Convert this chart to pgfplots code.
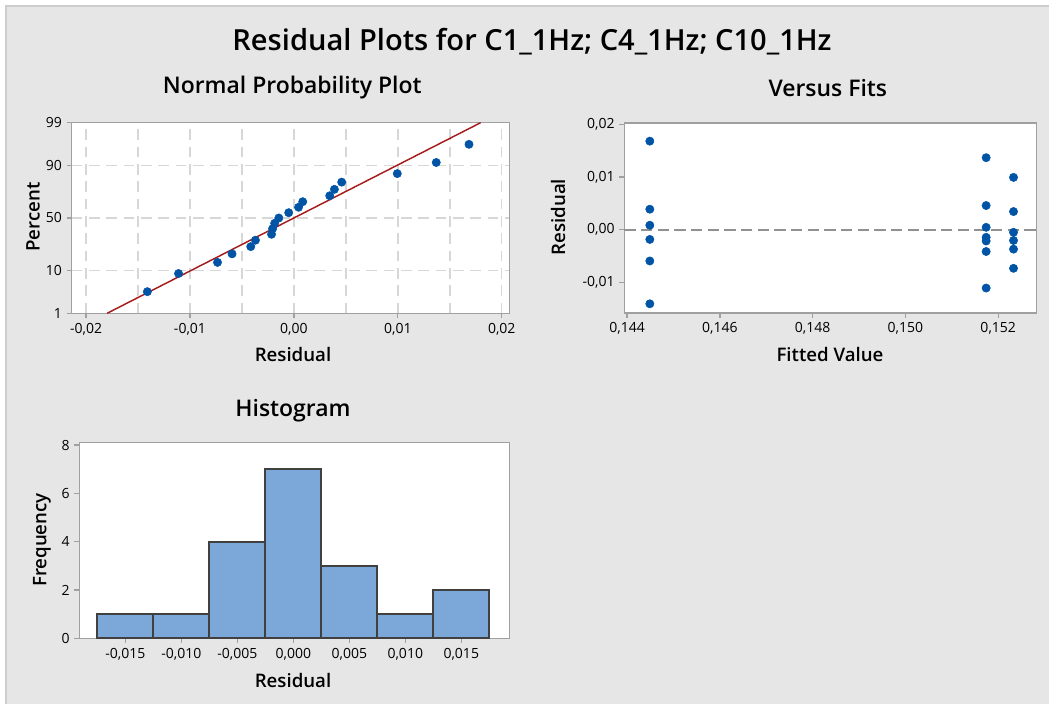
\documentclass[border=0pt]{standalone}
\usepackage{pgfplots}
\pgfplotsset{compat=1.18}
\usepackage{fontspec}
\IfFontExistsTF{Open Sans Semibold}{%
  \setmainfont{Open Sans}[BoldFont={Open Sans Semibold}]%
}{%
  \setmainfont{Open Sans}%
}
\definecolor{bgc}{RGB}{230,230,230}
\definecolor{edgec}{RGB}{205,205,205}
\definecolor{framec}{RGB}{160,160,160}
\definecolor{ptc}{RGB}{0,84,166}
\definecolor{fitc}{RGB}{165,28,28}
\definecolor{gridc}{RGB}{215,215,215}
\definecolor{zeroc}{RGB}{145,145,145}
\definecolor{barfill}{RGB}{123,167,217}
\definecolor{baredge}{RGB}{64,64,64}

\pgfplotsset{
  every axis title shift=0pt,
  myaxis/.style={
    scale only axis,
    anchor=south west,
    axis background/.style={fill=white},
    axis line style={draw=framec, line width=1.1pt},
    tick align=outside,
    tick pos=left,
    major tick length=3.75pt,
    major tick style={draw=framec, line width=1pt},
    /pgf/number format/assume math mode=true,
    tick label style={font=\fontsize{10.5}{12}\selectfont, text=black},
    label style={font=\bfseries\fontsize{14}{16}\selectfont},
    title style={font=\bfseries\fontsize{17.2}{20}\selectfont, anchor=center},
    scaled ticks=false,
    clip=true,
  }
}

\begin{document}
\begin{tikzpicture}
\path[use as bounding box, fill=white] (0,0) rectangle (786.75pt,528pt);
\fill[bgc] (4.5pt,0) rectangle (786.75pt,523.5pt);
\draw[edgec, line width=0.8pt] (4.5pt,0) -- (4.5pt,523.5pt) -- (786.75pt,523.5pt);

% ---------------- Normal probability plot ----------------
\begin{axis}[myaxis,
  at={(53.78pt,293.03pt)}, width=328.2pt, height=142.95pt,
  xmin=-0.02138, xmax=0.02073, ymin=-2.3263, ymax=2.3263,
  xtick={-0.02,-0.01,0,0.01,0.02},
  xticklabels={{-0,02},{-0,01},{0,00},{0,01},{0,02}},
  minor xtick={-0.015,-0.005,0.005,0.015},
  minor tick length=0pt,
  ytick={-2.3263,-1.2816,0,1.2816,2.3263},
  yticklabels={1,10,50,90,99},
  grid=both,
  major grid style={draw=gridc, dash pattern=on 8pt off 5pt, line width=1.1pt},
  minor grid style={draw=gridc, dash pattern=on 8pt off 5pt, line width=1.1pt},
  title={Normal Probability Plot},
  title style={at={(axis description cs:0.504,1.182)}},
  xlabel={Residual},
  xlabel style={at={(axis description cs:0.5057,-0.2188)}, anchor=center},
  ylabel={Percent},
  ylabel style={at={(axis description cs:-0.0884,0.505)}, anchor=center},
]
\addplot[fitc, line width=1.1pt] coordinates {(-0.01797,-2.3263) (0.01797,2.3263)};
\addplot[only marks, mark=*, mark size=3.1pt, color=ptc] coordinates {
(-0.0141,-1.7983) (-0.0111,-1.3552) (-0.00735,-1.0840) (-0.00595,-0.8753)
(-0.00415,-0.6990) (-0.0037,-0.5423) (-0.00215,-0.3979) (-0.00205,-0.2614)
(-0.00185,-0.1296) (-0.00145,0) (-0.0005,0.1296) (0.00045,0.2614)
(0.00085,0.3979) (0.00345,0.5423) (0.0039,0.6990) (0.0046,0.8753)
(0.00995,1.0840) (0.0137,1.3552) (0.01685,1.7983)
};
\end{axis}

% ---------------- Versus fits ----------------
\begin{axis}[myaxis,
  at={(468.23pt,293.25pt)}, width=309.3pt, height=142.5pt,
  xmin=0.14394, xmax=0.15283, ymin=-0.01585, ymax=0.0203,
  xtick={0.144,0.146,0.148,0.150,0.152},
  xticklabels={{0,144},{0,146},{0,148},{0,150},{0,152}},
  ytick={-0.01,0,0.01,0.02},
  yticklabels={{-0,01},{0,00},{0,01},{0,02}},
  title={Versus Fits},
  title style={at={(axis description cs:0.4935,1.184)}},
  xlabel={Fitted Value},
  xlabel style={at={(axis description cs:0.4988,-0.221)}, anchor=center},
  ylabel={Residual},
  ylabel style={at={(axis description cs:-0.1608,0.505)}, anchor=center},
]
\addplot[zeroc, line width=1.4pt, dash pattern=on 8.5pt off 4pt] coordinates {(0.14394,0) (0.15283,0)};
\addplot[only marks, mark=*, mark size=3.1pt, color=ptc] coordinates {
(0.14449,0.01685) (0.14449,0.0039) (0.14449,0.00085) (0.14449,-0.00185) (0.14449,-0.00595) (0.14449,-0.0141)
(0.15174,0.0137) (0.15174,0.0046) (0.15174,0.00045) (0.15174,-0.00145) (0.15174,-0.00215) (0.15174,-0.00415) (0.15174,-0.0111)
(0.15233,0.00995) (0.15233,0.00345) (0.15233,-0.0005) (0.15233,-0.00205) (0.15233,-0.0037) (0.15233,-0.00735)
};
\end{axis}

% ---------------- Histogram ----------------
\begin{axis}[myaxis,
  at={(59.48pt,49.28pt)}, width=322.5pt, height=146.7pt,
  xmin=-0.01911, xmax=0.01929, ymin=0, ymax=8.1,
  xtick={-0.015,-0.01,-0.005,0,0.005,0.01,0.015},
  xticklabels={{-0,015},{-0,010},{-0,005},{0,000},{0,005},{0,010},{0,015}},
  ytick={0,2,4,6,8},
  title={Histogram},
  title style={at={(axis description cs:0.497,1.162)}},
  xlabel={Residual},
  xlabel style={at={(axis description cs:0.497,-0.218)}, anchor=center},
  ylabel={Frequency},
  ylabel style={at={(axis description cs:-0.0867,0.5026)}, anchor=center},
]
\addplot[ybar, bar width=0.005, bar shift=0pt, fill=barfill, draw=baredge, line width=1.3pt]
  coordinates {(-0.015,1) (-0.010,1) (-0.005,4) (0,7) (0.005,3) (0.010,1) (0.015,2)};
\end{axis}

\node[font=\bfseries\fontsize{21.8}{25}\selectfont] at (399pt,497pt)
  {Residual Plots for C1\_1Hz; C4\_1Hz; C10\_1Hz};
\end{tikzpicture}
\end{document}
